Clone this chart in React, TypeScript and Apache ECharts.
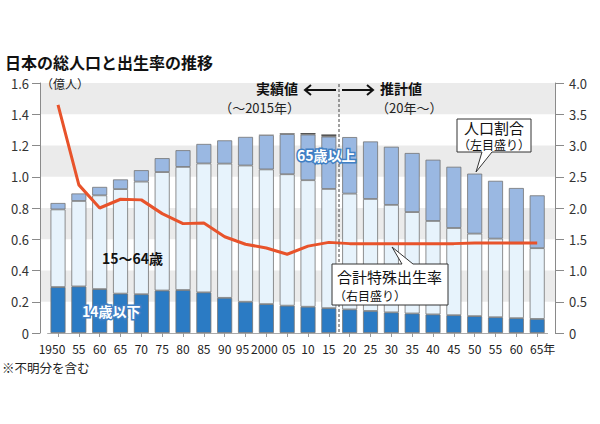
import React, { useEffect, useRef } from "react";
import * as echarts from "echarts";

// categories (years) and their tick labels
const years = [1950, 1955, 1960, 1965, 1970, 1975, 1980, 1985, 1990, 1995, 2000, 2005, 2010, 2015, 2020, 2025, 2030, 2035, 2040, 2045, 2050, 2055, 2060, 2065];
const xLabels = ["1950", "55", "60", "65", "70", "75", "80", "85", "90", "95", "2000", "05", "10", "15", "20", "25", "30", "35", "40", "45", "50", "55", "60", "65年"];

// population (100 million people)
const age0to14 = [0.294, 0.298, 0.281, 0.252, 0.248, 0.272, 0.275, 0.260, 0.225, 0.200, 0.185, 0.175, 0.168, 0.159, 0.151, 0.141, 0.132, 0.125, 0.119, 0.114, 0.108, 0.101, 0.095, 0.090];
const age15to64 = [0.497, 0.547, 0.600, 0.669, 0.721, 0.758, 0.788, 0.825, 0.859, 0.872, 0.862, 0.841, 0.810, 0.763, 0.741, 0.717, 0.688, 0.649, 0.598, 0.558, 0.528, 0.503, 0.479, 0.453];
const age65plus = [0.041, 0.048, 0.054, 0.062, 0.073, 0.089, 0.107, 0.125, 0.149, 0.183, 0.220, 0.257, 0.292, 0.335, 0.362, 0.368, 0.372, 0.378, 0.392, 0.392, 0.384, 0.370, 0.354, 0.338];
const unknown = [0, 0, 0, 0, 0, 0, 0, 0, 0, 0, 0.002, 0.005, 0.010, 0.014, 0, 0, 0, 0, 0, 0, 0, 0, 0, 0];

// total fertility rate
const fertility = [3.65, 2.37, 2.0, 2.14, 2.13, 1.91, 1.75, 1.76, 1.54, 1.42, 1.36, 1.26, 1.39, 1.45, 1.43, 1.43, 1.43, 1.43, 1.43, 1.43, 1.44, 1.44, 1.44, 1.44];

const leftTicks = { min: 0, max: 1.6, interval: 0.2 };
const rightTicks = { min: 0, max: 4, interval: 0.5 };

const FONT = '"Noto Sans CJK JP", "Noto Sans", sans-serif';

const fmt = (v: number) => (v === 0 ? "0" : v.toFixed(1));

export default function App() {
  const ref = useRef<HTMLDivElement>(null);

  useEffect(() => {
    if (!ref.current) return;
    const chart = echarts.init(ref.current, undefined, { renderer: "svg" });

    const barCommon = {
      type: "bar",
      stack: "pop",
      xAxisIndex: 1,
      yAxisIndex: 2,
      barWidth: 15,
      itemStyle: { borderColor: "#737373", borderWidth: 0.8 },
    };

    const txt = (x: number, y: number, text: string, size: number, extra: any = {}, align = "left") => ({
      type: "text",
      x,
      y,
      z: 100,
      style: {
        text,
        font: `${extra.bold ? "bold " : ""}${size}px ${FONT}`,
        fill: extra.fill || "#111",
        stroke: extra.stroke,
        lineWidth: extra.lineWidth || 0,
        align,
        verticalAlign: "middle",
      },
    });

    const labelStyle = (i: number) => {
      if (i === 0) return "sl";
      if (i === 9) return "ml";
      if (i === 10) return "ml2";
      if (i === 11) return "mr";
      if (i === xLabels.length - 1) return "sr";
      return "";
    };
    const rs = (padding: number[]) => ({ fontSize: 12, color: "#222", fontFamily: FONT, padding });

    chart.setOption({
      animation: false,
      backgroundColor: "#ffffff",
      textStyle: { fontFamily: FONT },
      grid: [
        { left: 40, right: 45, top: 83, height: 250 },
        { left: 47.6, right: 52.4, top: 83, height: 250 },
      ],
      xAxis: [
        { type: "value", gridIndex: 0, min: 0, max: 1, show: false },
        {
          type: "category",
          gridIndex: 1,
          data: years.map(String),
          axisLine: { show: true, lineStyle: { color: "#aaaaaa", width: 1 } },
          axisTick: { show: true, alignWithLabel: true, length: 4, lineStyle: { color: "#999" } },
          axisLabel: {
            interval: 0,
            fontSize: 12,
            color: "#222",
            margin: 9,
            fontFamily: FONT,
            formatter: (_v: string, i: number) => {
              const s = labelStyle(i);
              return s ? `{${s}|${xLabels[i]}}` : xLabels[i];
            },
            rich: {
              sl: rs([0, 12, 0, 0]),
              ml: rs([0, 6, 0, 0]),
              ml2: rs([0, 4, 0, 0]),
              mr: rs([0, 0, 0, 3]),
              sr: rs([0, 0, 0, 11]),
            },
          },
        },
      ],
      yAxis: [
        {
          type: "value",
          gridIndex: 0,
          position: "left",
          ...leftTicks,
          axisLine: { show: true, lineStyle: { color: "#8a8a8a" } },
          axisTick: { show: true, length: 8, lineStyle: { color: "#8a8a8a" } },
          axisLabel: { fontSize: 13, color: "#333", margin: 11, formatter: fmt, fontFamily: FONT },
          splitLine: { show: false },
          splitArea: { show: true, areaStyle: { color: ["rgba(255,255,255,0)", "#ebebeb"] } },
        },
        {
          type: "value",
          gridIndex: 0,
          position: "right",
          ...rightTicks,
          axisLine: { show: true, lineStyle: { color: "#8a8a8a" } },
          axisTick: { show: true, length: 9, lineStyle: { color: "#8a8a8a" } },
          axisLabel: { fontSize: 13, color: "#333", margin: 14, formatter: fmt, fontFamily: FONT },
          splitLine: { show: false },
        },
        { type: "value", gridIndex: 1, ...leftTicks, show: false, splitLine: { show: false } },
        { type: "value", gridIndex: 1, ...rightTicks, show: false, splitLine: { show: false } },
      ],
      series: [
        { type: "line", xAxisIndex: 0, yAxisIndex: 0, data: [], silent: true },
        { ...barCommon, name: "14歳以下", data: age0to14, itemStyle: { ...barCommon.itemStyle, color: "#2b7bc4" } },
        { ...barCommon, name: "15～64歳", data: age15to64, itemStyle: { ...barCommon.itemStyle, color: "#e7f3fc" } },
        { ...barCommon, name: "65歳以上", data: age65plus, itemStyle: { ...barCommon.itemStyle, color: "#9ab8e2" } },
        { ...barCommon, name: "不明", data: unknown, itemStyle: { color: "#555555", borderWidth: 0 } },
        {
          type: "line",
          name: "合計特殊出生率",
          xAxisIndex: 1,
          yAxisIndex: 3,
          data: fertility,
          symbol: "none",
          z: 5,
          lineStyle: { color: "#e8532b", width: 3 },
        },
      ],
      graphic: [
        txt(5, 62, "日本の総人口と出生率の推移", 16, { bold: true }),
        txt(41, 83, "（億人）", 12, { fill: "#222" }),
        txt(298, 88, "実績値", 14, { bold: true }, "right"),
        txt(300, 107, "（～2015年）", 13, { fill: "#222" }, "right"),
        txt(380, 88, "推計値", 14, { bold: true }),
        txt(376, 107, "（20年～）", 13, { fill: "#222" }),
        {
          type: "line",
          z: 100,
          shape: { x1: 339, y1: 84, x2: 339, y2: 333 },
          style: { stroke: "#444", lineWidth: 1, lineDash: [3, 2] },
        },
        { type: "line", z: 100, shape: { x1: 305, y1: 90, x2: 336, y2: 90 }, style: { stroke: "#111", lineWidth: 2 } },
        { type: "polyline", z: 100, shape: { points: [[311, 85], [305, 90], [311, 95]] }, style: { stroke: "#111", lineWidth: 2, fill: null } },
        { type: "line", z: 100, shape: { x1: 342, y1: 90, x2: 373, y2: 90 }, style: { stroke: "#111", lineWidth: 2 } },
        { type: "polyline", z: 100, shape: { points: [[367, 85], [373, 90], [367, 95]] }, style: { stroke: "#111", lineWidth: 2, fill: null } },
        {
          type: "polygon",
          z: 100,
          shape: { points: [[457, 119], [531, 119], [531, 152], [492, 152], [476, 172], [482, 152], [457, 152]] },
          style: { fill: "#fff", stroke: "#333", lineWidth: 1 },
        },
        txt(494, 127, "人口割合", 15, { fill: "#111" }, "center"),
        txt(494, 144, "（左目盛り）", 12, { fill: "#111" }, "center"),
        {
          type: "polygon",
          z: 100,
          shape: { points: [[332, 264], [402, 264], [392, 247], [413, 264], [448, 264], [448, 305], [332, 305]] },
          style: { fill: "#fff", stroke: "#333", lineWidth: 1 },
        },
        txt(337, 276, "合計特殊出生率", 15, { fill: "#111" }),
        txt(334, 295, "（右目盛り）", 12, { fill: "#111" }),
        txt(297, 155, "65歳以上", 14, { bold: true, fill: "#ffffff", stroke: "#3f7fc4", lineWidth: 3 }),
        txt(82, 311, "14歳以下", 14, { bold: true, fill: "#ffffff", stroke: "#3f7fc4", lineWidth: 3 }),
        txt(102, 258, "15～64歳", 14, { bold: true, fill: "#111" }),
        txt(2, 367, "※不明分を含む", 12.5, { fill: "#222" }),
      ],
    });

    return () => chart.dispose();
  }, []);

  return (
    <div
      ref={ref}
      style={{ position: "absolute", left: 0, top: 0, width: 600, height: 424, background: "#fff" }}
    />
  );
}
